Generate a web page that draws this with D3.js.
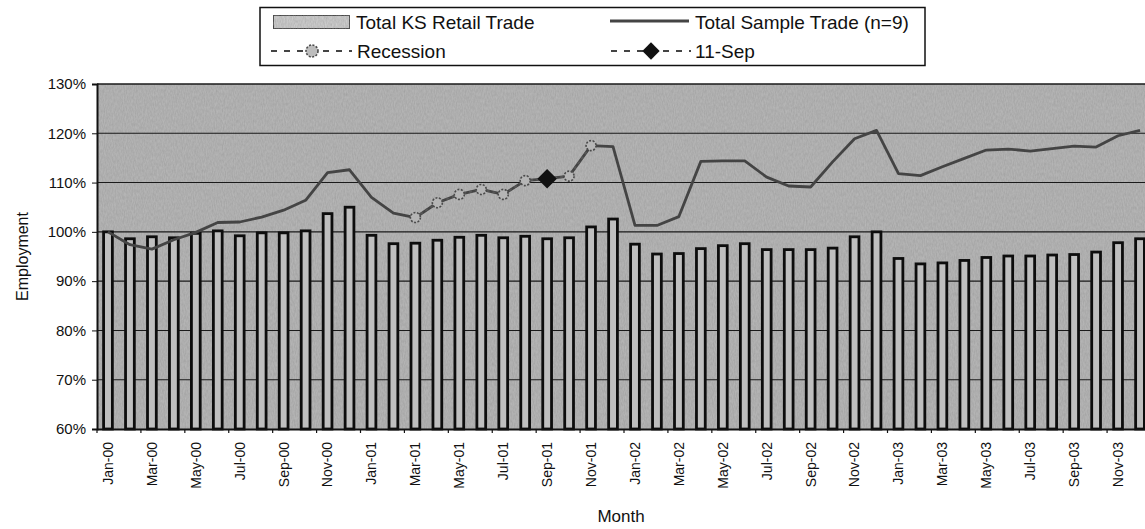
<!DOCTYPE html>
<html><head><meta charset="utf-8">
<script src="https://cdn.jsdelivr.net/npm/d3@7"></script>
<style>html,body{margin:0;padding:0;background:#fff;} svg{display:block;font-family:"Liberation Sans",Arial,sans-serif;}</style>
</head><body><svg id="c" width="1145" height="529"></svg>
<script>
const months = ["Jan-00","Feb-00","Mar-00","Apr-00","May-00","Jun-00","Jul-00","Aug-00","Sep-00","Oct-00","Nov-00","Dec-00",
"Jan-01","Feb-01","Mar-01","Apr-01","May-01","Jun-01","Jul-01","Aug-01","Sep-01","Oct-01","Nov-01","Dec-01",
"Jan-02","Feb-02","Mar-02","Apr-02","May-02","Jun-02","Jul-02","Aug-02","Sep-02","Oct-02","Nov-02","Dec-02",
"Jan-03","Feb-03","Mar-03","Apr-03","May-03","Jun-03","Jul-03","Aug-03","Sep-03","Oct-03","Nov-03","Dec-03"];
const tickLabels = ["Jan-00","Mar-00","May-00","Jul-00","Sep-00","Nov-00","Jan-01","Mar-01","May-01","Jul-01","Sep-01","Nov-01",
"Jan-02","Mar-02","May-02","Jul-02","Sep-02","Nov-02","Jan-03","Mar-03","May-03","Jul-03","Sep-03","Nov-03"];
const retailTrade = [100.0,98.6,99.0,98.8,99.7,100.2,99.2,99.8,99.8,100.2,103.7,105.0,
99.3,97.6,97.7,98.3,98.9,99.3,98.8,99.1,98.6,98.8,101.0,102.6,
97.5,95.5,95.6,96.6,97.2,97.6,96.4,96.4,96.4,96.7,99.0,100.0,
94.6,93.5,93.7,94.2,94.8,95.1,95.1,95.3,95.4,95.9,97.8,98.6];
const sampleTrade = [100.0,97.4,96.5,98.4,99.9,101.9,102.0,103.0,104.4,106.4,112.0,112.6,
107.0,103.8,102.9,105.9,107.6,108.6,107.6,110.4,110.8,111.3,117.5,117.3,
101.3,101.3,103.1,114.3,114.4,114.4,111.1,109.3,109.1,114.2,118.9,120.6,
111.8,111.4,113.2,114.9,116.6,116.8,116.4,116.9,117.4,117.2,119.5,120.6];
const recessionMonths = ["Mar-01","Apr-01","May-01","Jun-01","Jul-01","Aug-01","Sep-01","Oct-01","Nov-01"];
const recession = [102.9,105.9,107.6,108.6,107.6,110.4,110.8,111.3,117.5];
const sep11Months = ["Sep-01"];
const sep11 = [110.8];
const yTicks = [60,70,80,90,100,110,120,130];
const seriesNames = ["Total KS Retail Trade","Total Sample Trade (n=9)","Recession","11-Sep"];

const svg = d3.select("#c");
const L = 97, R = 1151, T = 84, B = 429;
const x = d3.scaleBand().domain(months).range([L, R]).paddingInner(0.6).paddingOuter(0.3);
const y = d3.scaleLinear().domain([60, 130]).range([B, T]);
const cx = m => x(m) + x.bandwidth() / 2;

const defs = svg.append("defs");
const f = defs.append("filter").attr("id", "noise").attr("x", 0).attr("y", 0).attr("width", 1).attr("height", 1);
f.append("feTurbulence").attr("type", "fractalNoise").attr("baseFrequency", "0.9 0.3").attr("numOctaves", 2).attr("seed", 3).attr("result", "n");
f.append("feColorMatrix").attr("in", "n").attr("type", "matrix")
  .attr("values", "0 0 0 0 0.25  0 0 0 0 0.25  0 0 0 0 0.25  0 0 0 0.55 0").attr("result", "m");
f.append("feComposite").attr("in", "m").attr("in2", "SourceGraphic").attr("operator", "in").attr("result", "c");
f.append("feMerge").call(g => { g.append("feMergeNode").attr("in", "SourceGraphic"); g.append("feMergeNode").attr("in", "c"); });

// plot background
svg.append("rect").attr("x", L).attr("y", T).attr("width", R - L).attr("height", B - T)
  .attr("fill", "#bababa").attr("filter", "url(#noise)");

// gridlines
svg.append("g").selectAll("line").data(yTicks.filter(d => d > 60)).join("line")
  .attr("x1", L).attr("x2", R).attr("y1", d => y(d)).attr("y2", d => y(d))
  .attr("stroke", "#1a1a1a").attr("stroke-width", d => d === 130 ? 1.6 : 1.1);

// bars
svg.append("g").selectAll("rect").data(months).join("rect")
  .attr("x", m => x(m)).attr("width", x.bandwidth())
  .attr("y", (m, i) => y(retailTrade[i])).attr("height", (m, i) => y(60) - y(retailTrade[i]))
  .attr("fill", "#bfbfbf").attr("stroke", "#0d0d0d").attr("stroke-width", 2.8);

// sample trade line
svg.append("path").datum(months)
  .attr("d", d3.line().x(m => cx(m)).y((m, i) => y(sampleTrade[i])))
  .attr("fill", "none").attr("stroke", "#444").attr("stroke-width", 2.8).attr("stroke-linejoin", "round");

// recession
svg.append("path").datum(recessionMonths)
  .attr("d", d3.line().x(m => cx(m)).y((m, i) => y(recession[i])))
  .attr("fill", "none").attr("stroke", "#555").attr("stroke-width", 2).attr("stroke-dasharray", "3,3");
svg.append("g").selectAll("circle").data(recessionMonths).join("circle")
  .attr("cx", m => cx(m)).attr("cy", (m, i) => y(recession[i])).attr("r", 5)
  .attr("fill", "#b5b5b5").attr("stroke", "#4a4a4a").attr("stroke-width", 1.6).attr("stroke-dasharray", "2,1.5");

// 11-Sep
svg.append("g").selectAll("path").data(sep11Months).join("path")
  .attr("d", d3.symbol(d3.symbolSquare, 190)())
  .attr("transform", (m, i) => `translate(${cx(m)},${y(sep11[i])}) rotate(45)`)
  .attr("fill", "#111");

// y axis
const ya = svg.append("g").attr("transform", `translate(${L},0)`)
  .call(d3.axisLeft(y).tickValues(yTicks).tickFormat(d => d + "%").tickSize(5).tickPadding(6));
ya.select(".domain").attr("stroke", "#111").attr("stroke-width", 2);
ya.selectAll(".tick line").attr("stroke", "#111");
ya.selectAll("text").attr("font-size", 15).attr("fill", "#111").attr("font-family", "Liberation Sans, Arial, sans-serif");

// x axis
const xa = svg.append("g").attr("transform", `translate(0,${B})`)
  .call(d3.axisBottom(x).tickValues(tickLabels).tickSize(0));
xa.select(".domain").attr("stroke", "#111").attr("stroke-width", 2);
xa.selectAll("text").attr("font-size", 14).attr("fill", "#111").attr("font-family", "Liberation Sans, Arial, sans-serif")
  .attr("transform", "rotate(-90)").attr("x", -13).attr("y", 0).attr("dy", "0.35em").style("text-anchor", "end");
// tick marks at category boundaries, every 2 categories
svg.append("g").selectAll("line").data(months.filter((m, i) => i % 2 === 0)).join("line")
  .attr("x1", m => x(m) - x.step() * x.paddingInner() / 2).attr("x2", m => x(m) - x.step() * x.paddingInner() / 2)
  .attr("y1", B).attr("y2", B + 4).attr("stroke", "#111").attr("stroke-width", 1.2);

// axis titles
svg.append("text").attr("transform", `translate(22,${(T + B) / 2}) rotate(-90)`).attr("text-anchor", "middle")
  .attr("dy", "0.35em").attr("font-size", 16).attr("fill", "#111").text("Employment");
svg.append("text").attr("x", 621).attr("y", 522).attr("text-anchor", "middle")
  .attr("font-size", 17).attr("fill", "#111").text("Month");

// legend
const lg = svg.append("g");
lg.append("rect").attr("x", 260).attr("y", 7.5).attr("width", 665).attr("height", 58)
  .attr("fill", "#fff").attr("stroke", "#111").attr("stroke-width", 1.5);
const r1 = 22, r2 = 51;
lg.append("rect").attr("x", 273).attr("y", r1 - 7).attr("width", 77).attr("height", 14)
  .attr("fill", "#d2d2d2").attr("stroke", "#222").attr("stroke-width", 1.8).attr("filter", "url(#noise)");
lg.append("line").attr("x1", 610).attr("x2", 689).attr("y1", r1 - 1).attr("y2", r1 - 1)
  .attr("stroke", "#444").attr("stroke-width", 3);
lg.append("line").attr("x1", 271).attr("x2", 352).attr("y1", r2).attr("y2", r2)
  .attr("stroke", "#444").attr("stroke-width", 1.8).attr("stroke-dasharray", "6,7");
lg.append("circle").attr("cx", 312).attr("cy", r2).attr("r", 6)
  .attr("fill", "#bdbdbd").attr("stroke", "#4a4a4a").attr("stroke-width", 1.6).attr("stroke-dasharray", "2,1.5");
lg.append("line").attr("x1", 611).attr("x2", 691).attr("y1", r2).attr("y2", r2)
  .attr("stroke", "#444").attr("stroke-width", 1.8).attr("stroke-dasharray", "6,7");
lg.append("path").attr("d", d3.symbol(d3.symbolSquare, 150)())
  .attr("transform", `translate(651,${r2}) rotate(45)`).attr("fill", "#111");
const lt = [[seriesNames[0], 356, r1], [seriesNames[1], 695, r1], [seriesNames[2], 357, r2], [seriesNames[3], 695, r2]];
lg.selectAll("text").data(lt).join("text")
  .attr("x", d => d[1]).attr("y", d => d[2]).attr("dy", "0.36em")
  .attr("font-size", 19).attr("fill", "#111").text(d => d[0]);
</script></body></html>
